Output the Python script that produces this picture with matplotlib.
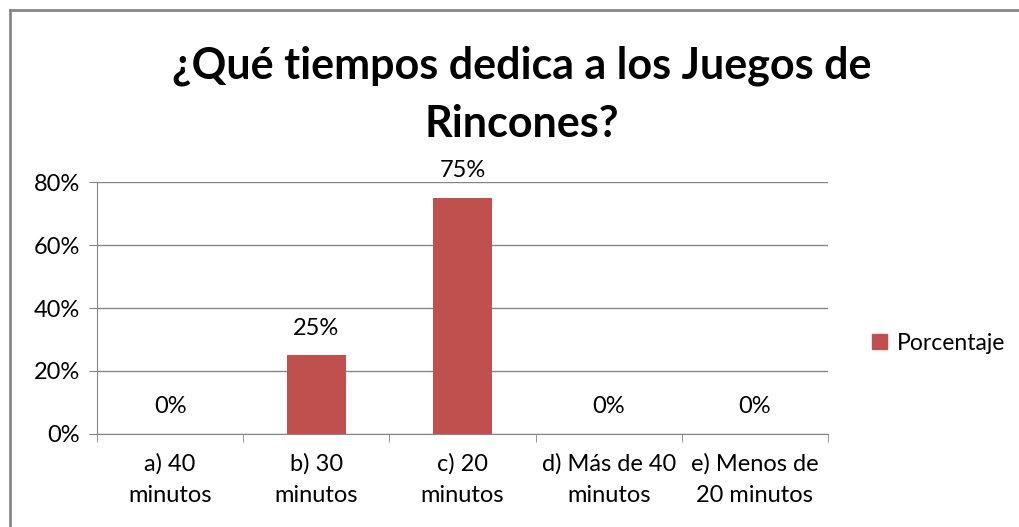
import numpy as np
import matplotlib.pyplot as plt
from matplotlib.lines import Line2D
from matplotlib.patches import Patch

plt.rcParams['font.family'] = ['Lato', 'DejaVu Sans']

categorias = ['a) 40\nminutos', 'b) 30\nminutos', 'c) 20\nminutos',
              'd) Más de 40\nminutos', 'e) Menos de\n20 minutos']
porcentaje = [0, 25, 75, 0, 0]
etiquetas = ['0%', '25%', '75%', '0%', '0%']
yticks = [0, 20, 40, 60, 80]

rojo = '#C0504D'
gris = '#868686'

fig = plt.figure(figsize=(10.2, 5.27), dpi=100)
ax = fig.add_axes([0.0951, 0.1765, 0.7167, 0.4781])

x = np.arange(len(categorias))
ax.bar(x, porcentaje, width=0.4, color=rojo, zorder=3)

ax.set_xlim(-0.5, len(categorias) - 0.5)
ax.set_ylim(0, 80)
ax.set_yticks(yticks)
ax.set_yticklabels([f'{v}%' for v in yticks], fontsize=17)
ax.yaxis.grid(True, color=gris, linewidth=1, zorder=0)

# etiquetas de categoria
ax.set_xticks(x)
ax.set_xticklabels(categorias, fontsize=17, linespacing=1.6)
ax.tick_params(axis='x', length=0, pad=14)
ax.tick_params(axis='y', length=6, color=gris, direction='out', pad=6)
ax.set_xticks(np.arange(len(categorias) + 1) - 0.5, minor=True)
ax.tick_params(axis='x', which='minor', length=6, color=gris, direction='out')

for s in ['top', 'right']:
    ax.spines[s].set_visible(False)
ax.spines['left'].set_color(gris)
ax.spines['bottom'].set_color(gris)

# etiquetas de datos
for xi, v, t in zip(x, porcentaje, etiquetas):
    ax.annotate(t, (xi, v), xytext=(0, 19.5), textcoords='offset points',
                ha='center', va='center', fontsize=17)

fig.text(0.512, 0.82, '¿Qué tiempos dedica a los Juegos de\nRincones?',
         ha='center', va='center', fontsize=31, fontweight='bold',
         linespacing=1.55)

ax.legend(handles=[Patch(color=rojo, label='Porcentaje')], loc='center left',
          bbox_to_anchor=(1.06, 0.36), frameon=False, fontsize=16.5,
          borderaxespad=0, borderpad=0,
          handlelength=0.65, handleheight=0.65, handletextpad=0.45)

# marco del grafico
fig.add_artist(Line2D([10 / 1020, 10 / 1020], [0, 1 - 10 / 527],
                      transform=fig.transFigure, color=gris, linewidth=2))
fig.add_artist(Line2D([10 / 1020, 1], [1 - 10 / 527, 1 - 10 / 527],
                      transform=fig.transFigure, color=gris, linewidth=2))

fig.savefig('out.png', dpi=100)
